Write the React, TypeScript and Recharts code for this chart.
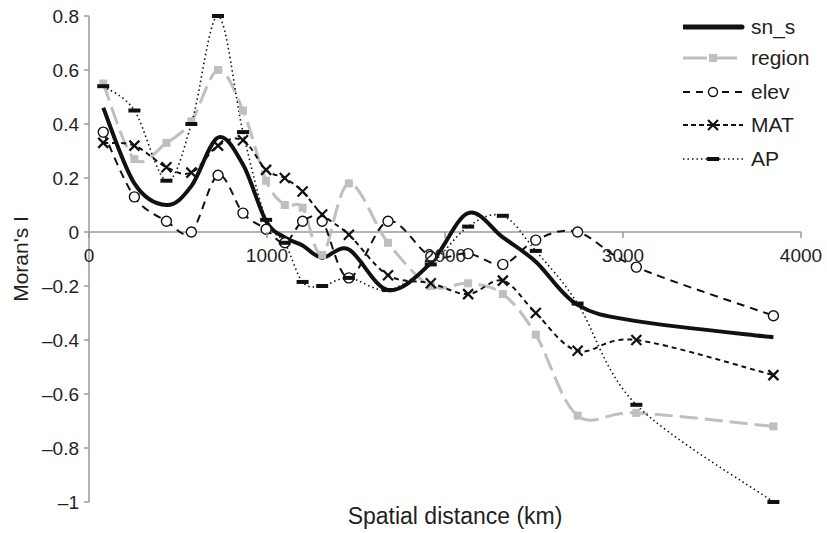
import { LineChart, Line, XAxis, YAxis, ReferenceLine } from "recharts"

// distance classes (km) and Moran's I per variable
const distance = [80, 255, 435, 575, 725, 865, 995, 1100, 1200, 1310, 1460, 1680, 1920, 2130, 2325, 2510, 2745, 3075, 3845]
const snS = [0.46, 0.18, 0.1, 0.17, 0.35, 0.25, 0.04, -0.02, -0.05, -0.095, -0.065, -0.215, -0.115, 0.07, -0.02, -0.11, -0.27, -0.33, -0.39]
const region = [0.55, 0.27, 0.33, 0.41, 0.6, 0.45, 0.19, 0.1, 0.09, -0.085, 0.18, -0.04, -0.2, -0.19, -0.23, -0.38, -0.68, -0.67, -0.72]
const elev = [0.37, 0.13, 0.04, 0.0, 0.21, 0.07, 0.01, -0.04, 0.04, 0.04, -0.17, 0.04, -0.09, -0.08, -0.12, -0.03, 0.0, -0.13, -0.31]
const mat = [0.33, 0.32, 0.24, 0.22, 0.32, 0.34, 0.23, 0.2, 0.15, 0.065, -0.01, -0.16, -0.19, -0.23, -0.18, -0.3, -0.44, -0.4, -0.53]
const ap = [0.54, 0.45, 0.19, 0.4, 0.8, 0.37, 0.045, -0.04, -0.185, -0.2, -0.17, -0.215, -0.12, 0.02, 0.06, -0.07, -0.265, -0.64, -1.0]

const xTicks = [0, 1000, 2000, 3000, 4000]
const yTicks = [-1, -0.8, -0.6, -0.4, -0.2, 0, 0.2, 0.4, 0.6, 0.8]

const data = distance.map((d, i) => ({
  d,
  snS: snS[i],
  region: region[i],
  elev: elev[i],
  mat: mat[i],
  ap: ap[i],
}))

const W = 827
const H = 533
const TOP = 16
const PLOT_H = 486
const Y_MIN = -1
const Y_MAX = 0.8
// pixel row of the zero line, where the x axis sits
const Y0 = TOP + (PLOT_H * Y_MAX) / (Y_MAX - Y_MIN)

const FONT = "'Liberation Sans', Arial, sans-serif"
const TEXT = "#231f20"
const AXIS = "#9a9a9a"
const GRAY = "#bfbfbf"

// Excel-like smoothed line (Catmull-Rom through every point)
const smooth = (ctx: any) => {
  let pts: number[][] = []
  return {
    areaStart() {},
    areaEnd() {},
    lineStart() {
      pts = []
    },
    point(x: number, y: number) {
      pts.push([+x, +y])
    },
    lineEnd() {
      if (!pts.length) return
      ctx.moveTo(pts[0][0], pts[0][1])
      for (let i = 0; i < pts.length - 1; i++) {
        const p0 = pts[i - 1] || pts[i]
        const p1 = pts[i]
        const p2 = pts[i + 1]
        const p3 = pts[i + 2] || p2
        ctx.bezierCurveTo(
          p1[0] + (p2[0] - p0[0]) / 6,
          p1[1] + (p2[1] - p0[1]) / 6,
          p2[0] - (p3[0] - p1[0]) / 6,
          p2[1] - (p3[1] - p1[1]) / 6,
          p2[0],
          p2[1]
        )
      }
    },
  }
}

const squareDot = (p: any) => (
  <rect key={`sq-${p.index}`} x={p.cx - 4} y={p.cy - 4} width={8} height={8} fill={GRAY} />
)
const circleDot = (p: any) => (
  <circle key={`ci-${p.index}`} cx={p.cx} cy={p.cy} r={5} fill="#fff" stroke="#111" strokeWidth={1.4} />
)
const crossDot = (p: any) => (
  <g key={`cr-${p.index}`} stroke="#111" strokeWidth={2.2}>
    <line x1={p.cx - 5} y1={p.cy - 5} x2={p.cx + 5} y2={p.cy + 5} />
    <line x1={p.cx - 5} y1={p.cy + 5} x2={p.cx + 5} y2={p.cy - 5} />
  </g>
)
const barDot = (p: any) => (
  <rect key={`ba-${p.index}`} x={p.cx - 6} y={p.cy - 2} width={12} height={4} fill="#111" />
)

const XTick = (props: any) => {
  const { x, payload } = props
  return (
    <g>
      <line x1={x} x2={x} y1={Y0} y2={Y0 + 6} stroke={AXIS} strokeWidth={1.5} />
      <text x={x} y={Y0 + 30} textAnchor="middle" fontFamily={FONT} fontSize={19} fill={TEXT}>
        {payload.value}
      </text>
    </g>
  )
}

const fmtY = (v: number) => (v < 0 ? `\u2013${Math.abs(v)}` : String(v))

const legendRows = [
  { name: "sn_s", y: 27 },
  { name: "region", y: 58 },
  { name: "elev", y: 92 },
  { name: "MAT", y: 125 },
  { name: "AP", y: 159 },
]

function LegendBox() {
  const [a, b, c, d, e] = legendRows.map((r) => r.y)
  return (
    <svg width={140} height={180} style={{ position: "absolute", left: 683, top: 0 }}>
      <line x1={1} x2={59} y1={a} y2={a} stroke="#111" strokeWidth={5} strokeLinecap="round" />
      <line x1={0} x2={60} y1={b} y2={b} stroke={GRAY} strokeWidth={3} strokeDasharray="24 6" />
      <rect x={26} y={b - 4} width={8} height={8} fill={GRAY} />
      <line x1={0} x2={60} y1={c} y2={c} stroke="#111" strokeWidth={2} strokeDasharray="7 6" />
      <circle cx={30} cy={c} r={4.5} fill="#fff" stroke="#111" strokeWidth={1.4} />
      <line x1={0} x2={60} y1={d} y2={d} stroke="#111" strokeWidth={2} strokeDasharray="5 3" />
      <g stroke="#111" strokeWidth={2.2}>
        <line x1={25} y1={d - 5} x2={35} y2={d + 5} />
        <line x1={25} y1={d + 5} x2={35} y2={d - 5} />
      </g>
      <line x1={0} x2={60} y1={e} y2={e} stroke="#111" strokeWidth={1.5} strokeDasharray="1.5 3" />
      <rect x={24} y={e - 2} width={12} height={4} fill="#111" />
      {legendRows.map((r) => (
        <text key={r.name} x={68} y={r.y + 7} fontFamily={FONT} fontSize={21} fill={TEXT}>
          {r.name}
        </text>
      ))}
    </svg>
  )
}

export default function App() {
  return (
    <div style={{ position: "absolute", left: 0, top: 0, width: W, height: H, background: "#fff" }}>
      <LineChart width={W} height={H} data={data} margin={{ top: TOP, right: 26, left: 29, bottom: 1 }}>
        <XAxis
          dataKey="d"
          type="number"
          domain={[0, 4000]}
          ticks={xTicks}
          axisLine={false}
          tickLine={false}
          height={30}
          tick={<XTick />}
          label={{
            content: () => (
              <text x={455} y={524} textAnchor="middle" fontFamily={FONT} fontSize={23} fill={TEXT}>
                Spatial distance (km)
              </text>
            ),
          }}
        />
        <YAxis
          type="number"
          domain={[Y_MIN, Y_MAX]}
          ticks={yTicks}
          width={60}
          stroke={AXIS}
          axisLine={{ stroke: AXIS, strokeWidth: 1.5 }}
          tickLine={{ stroke: AXIS, strokeWidth: 1.5 }}
          tickSize={5}
          tickMargin={5}
          tickFormatter={fmtY}
          tick={{ fontFamily: FONT, fontSize: 19, fill: TEXT }}
          label={{
            content: () => (
              <text
                x={28}
                y={TOP + PLOT_H / 2}
                transform={`rotate(-90 28 ${TOP + PLOT_H / 2})`}
                textAnchor="middle"
                fontFamily={FONT}
                fontSize={21}
                fill={TEXT}
              >
                Moran's I
              </text>
            ),
          }}
        />
        <ReferenceLine y={0} stroke={AXIS} strokeWidth={1.5} />
        <Line
          dataKey="region"
          type={smooth as any}
          stroke={GRAY}
          strokeWidth={3}
          strokeDasharray="18 7"
          dot={squareDot}
          activeDot={false}
          isAnimationActive={false}
        />
        <Line
          dataKey="elev"
          type={smooth as any}
          stroke="#111"
          strokeWidth={2}
          strokeDasharray="8 6"
          dot={circleDot}
          activeDot={false}
          isAnimationActive={false}
        />
        <Line
          dataKey="mat"
          type={smooth as any}
          stroke="#111"
          strokeWidth={2}
          strokeDasharray="5 4"
          dot={crossDot}
          activeDot={false}
          isAnimationActive={false}
        />
        <Line
          dataKey="ap"
          type={smooth as any}
          stroke="#111"
          strokeWidth={1.6}
          strokeDasharray="1.5 3"
          dot={barDot}
          activeDot={false}
          isAnimationActive={false}
        />
        <Line
          dataKey="snS"
          type={smooth as any}
          stroke="#111"
          strokeWidth={4}
          dot={false}
          activeDot={false}
          isAnimationActive={false}
        />
      </LineChart>
      <LegendBox />
    </div>
  )
}
